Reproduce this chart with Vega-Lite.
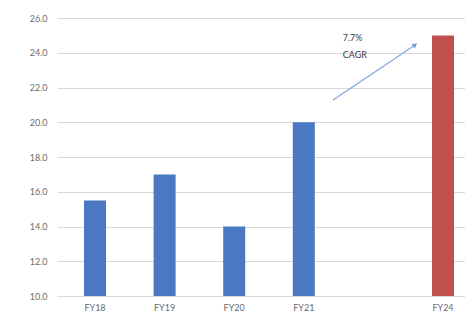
{
  "$schema": "https://vega.github.io/schema/vega-lite/v6.json",
  "autosize": "none",
  "width": 424,
  "height": 278,
  "padding": {"left": 57, "top": 18, "right": 0, "bottom": 26},
  "background": "white",
  "config": {
    "view": {"stroke": null},
    "font": "Lato",
    "axis": {"labelFont": "Lato", "labelColor": "#6b6b6b", "labelFontSize": 9},
    "axisY": {"title": null, "format": ".1f", "labelOverlap": false, "domain": false, "ticks": false, "gridColor": "#d9d9d9", "labelPadding": 10}
  },
  "datasets": {
    "bars": [
      {"year": "FY18", "value": 15.5, "kind": "actual"},
      {"year": "FY19", "value": 17.0, "kind": "actual"},
      {"year": "FY20", "value": 14.0, "kind": "actual"},
      {"year": "FY21", "value": 20.0, "kind": "actual"},
      {"year": "FY24", "value": 25.0, "kind": "target"}
    ],
    "arrow": [
      {"x": 3.42, "y": 21.28, "x2": 4.6, "y2": 24.45}
    ],
    "note": [
      {"x": 3.56, "y": 24.85, "label": "7.7%"},
      {"x": 3.56, "y": 23.87, "label": "CAGR"}
    ]
  },
  "layer": [
    {
      "data": {"name": "bars"},
      "mark": {"type": "bar", "width": 22},
      "encoding": {
        "x": {
          "field": "year",
          "type": "nominal",
          "scale": {"domain": ["FY18", "FY19", "FY20", "FY21", " ", "FY24"], "paddingInner": 0, "paddingOuter": 0.046},
          "axis": {"title": null, "ticks": false, "domain": true, "domainColor": "#d9d9d9", "labelAngle": 0, "labelPadding": 7}
        },
        "y": {
          "field": "value",
          "type": "quantitative",
          "scale": {"domain": [10, 26], "nice": false, "zero": false},
          "axis": {"values": [10, 12, 14, 16, 18, 20, 22, 24, 26]}
        },
        "y2": {"datum": 10},
        "color": {
          "field": "kind",
          "type": "nominal",
          "scale": {"domain": ["actual", "target"], "range": ["#4a78c2", "#c0504d"]},
          "legend": null
        }
      }
    },
    {
      "data": {"name": "arrow"},
      "mark": {"type": "rule", "color": "#7fa7da", "strokeWidth": 1.2},
      "encoding": {
        "x": {"field": "x", "type": "quantitative", "scale": {"domain": [-0.546, 5.546], "nice": false, "zero": false}, "axis": null},
        "y": {"field": "y", "type": "quantitative", "axis": {"values": [10, 12, 14, 16, 18, 20, 22, 24, 26]}},
        "x2": {"field": "x2"},
        "y2": {"field": "y2"}
      }
    },
    {
      "data": {"name": "arrow"},
      "mark": {"type": "point", "shape": "triangle-up", "filled": true, "color": "#6f9bd4", "size": 30, "angle": 56, "opacity": 1},
      "encoding": {
        "x": {"field": "x2", "type": "quantitative", "scale": {"domain": [-0.546, 5.546], "nice": false, "zero": false}, "axis": null},
        "y": {"field": "y2", "type": "quantitative", "axis": {"values": [10, 12, 14, 16, 18, 20, 22, 24, 26]}}
      }
    },
    {
      "data": {"name": "note"},
      "mark": {"type": "text", "align": "left", "baseline": "middle", "fontSize": 9, "color": "#404040"},
      "encoding": {
        "x": {"field": "x", "type": "quantitative", "scale": {"domain": [-0.546, 5.546], "nice": false, "zero": false}, "axis": null},
        "y": {"field": "y", "type": "quantitative", "axis": {"values": [10, 12, 14, 16, 18, 20, 22, 24, 26]}},
        "text": {"field": "label"}
      }
    }
  ],
  "resolve": {"scale": {"x": "independent"}}
}
